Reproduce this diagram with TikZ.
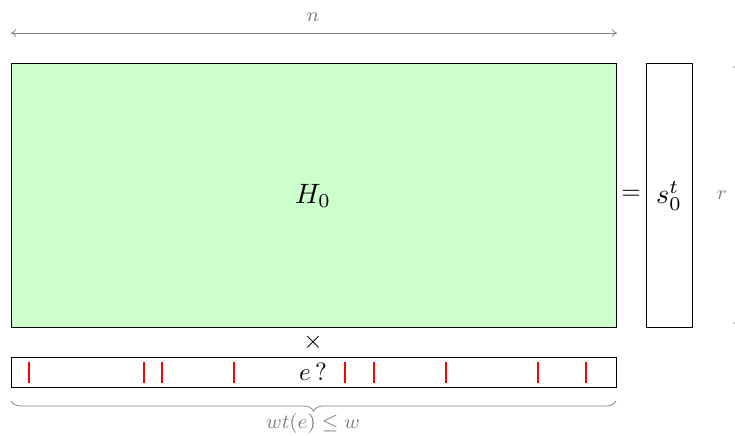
\documentclass[tikz,border=0pt]{standalone}
\usetikzlibrary{decorations.pathreplacing,arrows.meta}
\begin{document}
\begin{tikzpicture}[x=0.4pt,y=-0.4pt,
  dim/.style={gray,line width=0.3pt,{To[length=2pt,width=3pt]}-{To[length=2pt,width=3pt]}},
  dimlabel/.style={text=gray,font=\footnotesize,inner sep=1pt},
  matbox/.style={draw=black,line width=0.4pt},
  tick/.style={red,line width=0.9pt}]
\useasboundingbox (0,0) rectangle (735,435);
% top dimension
\coordinate (nl) at (11,33);
\coordinate (nr) at (617,33);
\draw[dim] (nl) -- (nr);
\node[dimlabel] (n) at (313,17) {$n$};
% H0
\node[matbox,fill={rgb,255:red,204;green,255;blue,204},minimum width=605*0.4pt,minimum height=264*0.4pt,inner sep=0pt] (H) at (313.5,195) {};
\node[inner sep=1pt,scale=1.12] (Hl) at (313,196) {$H_0$};
\node[inner sep=0pt] (eq) at (631,195) {$=$};
\node[matbox,minimum width=46*0.4pt,minimum height=264*0.4pt,inner sep=0pt] (s) at (669,195) {};
\node[inner sep=1pt,scale=1.12] (sl) at (669,196) {$s_0^t$};
\node[dimlabel] (r) at (722,195) {$r$};
\coordinate (rt) at (737,63);
\coordinate (rb) at (737,327);
\draw[dim] (rt) -- (rb);
% times
\node[inner sep=1pt] (x) at (313,342) {$\times$};
% e vector
\node[matbox,minimum width=605*0.4pt,minimum height=30*0.4pt,inner sep=0pt] (e) at (313.5,372) {};
\node[inner sep=1pt] (eq2) at (313,372) {$e\,?$};
\foreach \t in {29,144,162,234,345,374,446,538,586}{
  \draw[tick] (\t,362) -- (\t,383);
}
% brace
\coordinate (bl) at (11,401);
\coordinate (br) at (616,401);
\draw[gray,line width=0.3pt,decorate,decoration={brace,mirror,amplitude=4pt}] (bl) -- (br);
\node[dimlabel] (w) at (313,423) {$wt(e)\leq w$};
\end{tikzpicture}
\end{document}
